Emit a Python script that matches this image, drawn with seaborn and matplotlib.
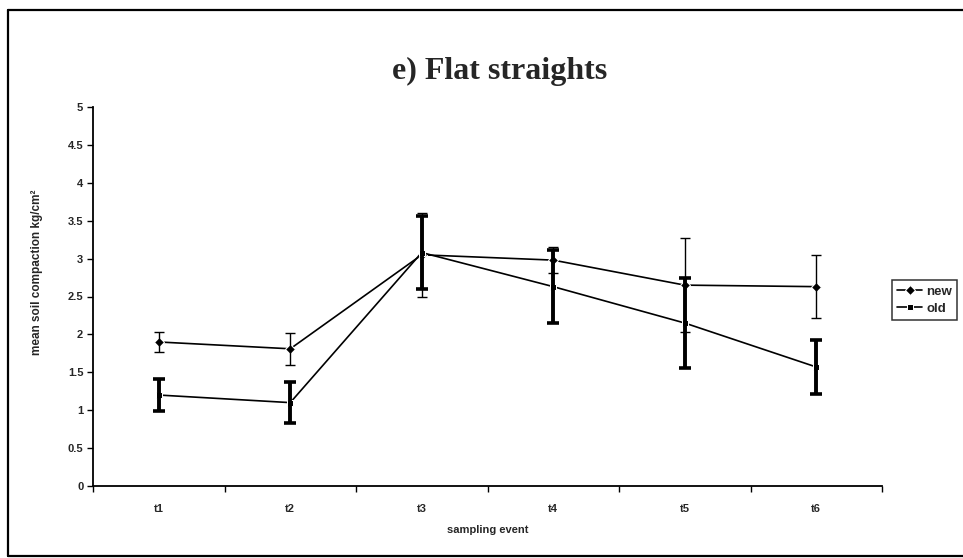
import numpy as np
import pandas as pd
import matplotlib
matplotlib.use("Agg")
import matplotlib.pyplot as plt
import seaborn as sns
from matplotlib.lines import Line2D

# Mean soil compaction (kg/cm2) per sampling event, with error bar half-widths
events = ["t1", "t2", "t3", "t4", "t5", "t6"]
new_mean = [1.90, 1.81, 3.05, 2.98, 2.65, 2.63]
new_err = [0.13, 0.21, 0.55, 0.17, 0.62, 0.42]
old_mean = [1.20, 1.10, 3.08, 2.63, 2.15, 1.57]
old_err = [0.21, 0.27, 0.48, 0.48, 0.59, 0.35]
y_ticks = [0, 0.5, 1, 1.5, 2, 2.5, 3, 3.5, 4, 4.5, 5]
y_tick_labels = ["0", "0.5", "1", "1.5", "2", "2.5", "3", "3.5", "4", "4.5", "5"]

sns.set_theme(style="white")
plt.rcParams["font.family"] = ["Liberation Sans", "DejaVu Sans"]
plt.rcParams["axes.edgecolor"] = "black"

W, H = 963, 558
fig = plt.figure(figsize=(W / 100, H / 100), dpi=100)
ax = fig.add_axes([93 / W, 1 - 486 / H, (882 - 93) / W, (486 - 107) / H])

pos = np.arange(len(events))
df_new = pd.DataFrame({"pos": pos, "value": new_mean})
df_old = pd.DataFrame({"pos": pos, "value": old_mean})

sns.lineplot(data=df_new, x="pos", y="value", ax=ax, color="black",
             linewidth=1.2, marker="D", markersize=5, label="new")
sns.lineplot(data=df_old, x="pos", y="value", ax=ax, color="black",
             linewidth=1.2, marker="s", markersize=5, label="old")

ax.errorbar(pos, new_mean, yerr=new_err, fmt="none", ecolor="black",
            elinewidth=1.0, capsize=3.5, capthick=1.0)
ax.errorbar(pos, old_mean, yerr=old_err, fmt="none", ecolor="black",
            elinewidth=2.8, capsize=4.0, capthick=2.6)

ax.set_xlim(-0.5, len(events) - 0.5)
ax.set_ylim(0, 5)
ax.set_yticks(y_ticks)
ax.set_yticklabels(y_tick_labels)
ax.set_xticks(pos)
ax.set_xticklabels(events)
ax.set_xticks(np.arange(-0.5, len(events), 1), minor=True)
ax.tick_params(axis="x", which="major", length=0, pad=13, labelsize=8)
ax.tick_params(axis="x", which="minor", length=4, width=1, direction="out",
               color="black", bottom=True)
ax.tick_params(axis="y", which="major", length=4, width=1, direction="out",
               color="black", left=True, labelsize=8, pad=3)
for lab in ax.get_xticklabels() + ax.get_yticklabels():
    lab.set_fontweight("bold")

for side in ["top", "right"]:
    ax.spines[side].set_visible(False)
for side in ["left", "bottom"]:
    ax.spines[side].set_linewidth(1.3)
    ax.spines[side].set_color("black")

ax.set_xlabel("sampling event", fontsize=8, fontweight="bold", labelpad=8)
ax.set_ylabel("mean soil compaction kg/cm²", fontsize=8.5, fontweight="bold")
ax.yaxis.set_label_coords(-0.063, (486 - 272) / (486 - 107))

ax.legend().remove()
handles, labels = ax.get_legend_handles_labels()
leg = fig.legend(handles[:2], labels[:2], loc="center left",
                 bbox_to_anchor=(892 / W, 1 - 300 / H), fontsize=9.5,
                 frameon=True, fancybox=False, handlelength=1.9,
                 handletextpad=0.3, borderpad=0.4, labelspacing=0.35,
                 borderaxespad=0)
leg.get_frame().set_edgecolor("black")
leg.get_frame().set_linewidth(1.1)
for t in leg.get_texts():
    t.set_fontweight("bold")

fig.text(500 / W, 1 - 71 / H, "e) Flat straights", ha="center", va="center",
         fontsize=23, fontweight="bold",
         family=["Liberation Serif", "DejaVu Serif"])

# outer panel border: left, top and bottom edges
border = dict(color="black", linewidth=1.6, transform=fig.transFigure)
fig.add_artist(Line2D([8 / W, 8 / W], [1 - 10 / H, 1 - 556 / H], **border))
fig.add_artist(Line2D([8 / W, 1.0], [1 - 10 / H, 1 - 10 / H], **border))
fig.add_artist(Line2D([8 / W, 1.0], [1 - 556 / H, 1 - 556 / H], **border))

fig.savefig("out.png", dpi=100, facecolor="white")
